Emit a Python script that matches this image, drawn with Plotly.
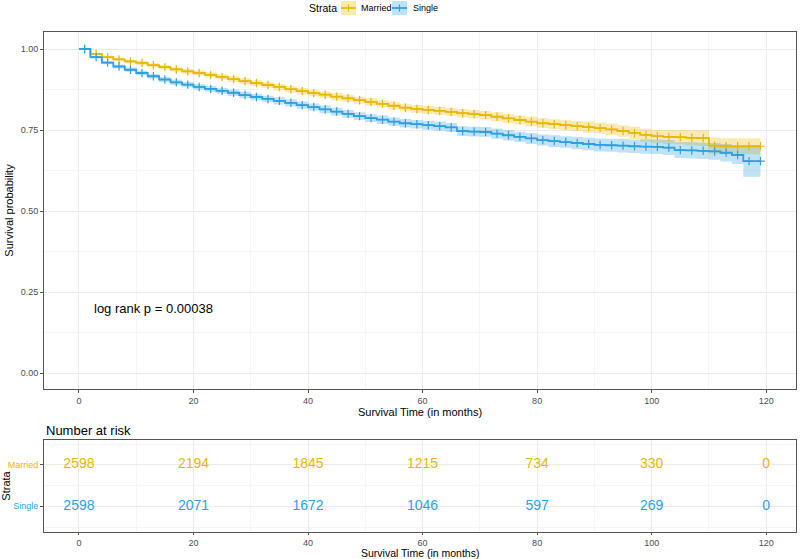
import plotly.graph_objects as go

# ---------------- data ----------------
times = [0, 2, 4, 6, 8, 10, 12, 14, 16, 18, 20, 22, 24, 26, 28, 30, 32, 34, 36, 38,
         40, 42, 44, 46, 48, 50, 52, 54, 56, 58, 60, 62, 64, 66, 68, 70, 72, 74, 76, 78,
         80, 82, 84, 86, 88, 90, 92, 94, 96, 98, 100, 102, 104, 106, 108, 110, 112, 114, 116, 118, 119]

married_surv = [1.000, 0.985, 0.975, 0.968, 0.962, 0.957, 0.950, 0.944, 0.937, 0.931,
                0.926, 0.920, 0.914, 0.907, 0.901, 0.895, 0.889, 0.883, 0.876, 0.870,
                0.864, 0.859, 0.853, 0.848, 0.842, 0.837, 0.831, 0.825, 0.819, 0.815,
                0.812, 0.809, 0.806, 0.802, 0.799, 0.796, 0.791, 0.786, 0.781, 0.776,
                0.771, 0.768, 0.765, 0.762, 0.759, 0.756, 0.752, 0.747, 0.741, 0.735,
                0.731, 0.729, 0.728, 0.726, 0.725, 0.702, 0.700, 0.700, 0.700, 0.700, 0.700]

single_surv = [1.000, 0.975, 0.958, 0.946, 0.936, 0.926, 0.916, 0.906, 0.897, 0.890,
               0.883, 0.877, 0.871, 0.865, 0.858, 0.852, 0.846, 0.840, 0.834, 0.827,
               0.821, 0.814, 0.807, 0.800, 0.793, 0.787, 0.782, 0.776, 0.771, 0.768,
               0.765, 0.762, 0.758, 0.747, 0.745, 0.744, 0.739, 0.734, 0.729, 0.724,
               0.719, 0.716, 0.713, 0.710, 0.707, 0.704, 0.703, 0.702, 0.700, 0.699,
               0.698, 0.696, 0.688, 0.687, 0.686, 0.684, 0.680, 0.673, 0.654, 0.654, 0.654]

married_ci_half = [0.000, 0.003, 0.004, 0.005, 0.005, 0.006, 0.006, 0.007, 0.007, 0.007,
                   0.008, 0.008, 0.008, 0.009, 0.009, 0.009, 0.009, 0.010, 0.010, 0.010,
                   0.010, 0.010, 0.011, 0.011, 0.011, 0.011, 0.011, 0.012, 0.012, 0.012,
                   0.012, 0.012, 0.013, 0.013, 0.013, 0.013, 0.014, 0.014, 0.014, 0.015,
                   0.015, 0.015, 0.016, 0.016, 0.017, 0.017, 0.018, 0.018, 0.019, 0.020,
                   0.020, 0.021, 0.022, 0.023, 0.024, 0.025, 0.025, 0.025, 0.025, 0.025, 0.025]

single_ci_half = [0.000, 0.004, 0.005, 0.006, 0.006, 0.007, 0.007, 0.008, 0.008, 0.008,
                  0.009, 0.009, 0.009, 0.010, 0.010, 0.010, 0.010, 0.011, 0.011, 0.011,
                  0.011, 0.012, 0.012, 0.012, 0.012, 0.012, 0.013, 0.013, 0.013, 0.013,
                  0.014, 0.014, 0.014, 0.015, 0.015, 0.015, 0.016, 0.016, 0.016, 0.017,
                  0.017, 0.018, 0.018, 0.019, 0.019, 0.020, 0.020, 0.021, 0.021, 0.022,
                  0.022, 0.023, 0.024, 0.025, 0.025, 0.026, 0.027, 0.028, 0.048, 0.048, 0.048]

risk_times = [0, 20, 40, 60, 80, 100, 120]
married_risk = [2598, 2194, 1845, 1215, 734, 330, 0]
single_risk = [2598, 2071, 1672, 1046, 597, 269, 0]

strata = ["Married", "Single"]
colors = {"Married": "#E7B800", "Single": "#2E9FDF"}
fills = {"Married": "rgba(231,184,0,0.3)", "Single": "rgba(46,159,223,0.3)"}

x_ticks = [0, 20, 40, 60, 80, 100, 120]
y_ticks = [0.00, 0.25, 0.50, 0.75, 1.00]
y_ticklabels = ["0.00", "0.25", "0.50", "0.75", "1.00"]

FONT = "Liberation Sans, Arial, sans-serif"
W, H = 800, 559

fig = go.Figure()

series = {"Married": (married_surv, married_ci_half), "Single": (single_surv, single_ci_half)}
for name in strata:
    surv, half = series[name]
    lower = [s - h for s, h in zip(surv, half)]
    upper = [min(1.0, s + h) for s, h in zip(surv, half)]
    fig.add_trace(go.Scatter(x=times, y=lower, mode="lines", line=dict(width=0, shape="hv"),
                             showlegend=False, hoverinfo="skip", xaxis="x", yaxis="y"))
    fig.add_trace(go.Scatter(x=times, y=upper, mode="lines", line=dict(width=0, shape="hv"),
                             fill="tonexty", fillcolor=fills[name],
                             showlegend=False, hoverinfo="skip", xaxis="x", yaxis="y"))

for name in strata:
    surv, half = series[name]
    fig.add_trace(go.Scatter(x=times, y=surv, mode="lines", name=name,
                             line=dict(color=colors[name], width=1.8, shape="hv"),
                             showlegend=False, xaxis="x", yaxis="y"))
    cx = [t + 1 for t in times[:-1]]
    cy = surv[:-1]
    fig.add_trace(go.Scatter(x=cx, y=cy, mode="markers", name=name,
                             marker=dict(symbol="cross-thin", size=6,
                                         line=dict(color=colors[name], width=1.2)),
                             showlegend=False, xaxis="x", yaxis="y"))

# number at risk table
for yv, name, vals in [(2, "Married", married_risk), (1, "Single", single_risk)]:
    fig.add_trace(go.Scatter(x=risk_times, y=[yv] * len(risk_times), mode="text",
                             text=[str(v) for v in vals],
                             textfont=dict(color=colors[name], size=14, family=FONT),
                             showlegend=False, hoverinfo="skip", xaxis="x2", yaxis="y2"))

XR = [-6.1, 125.2]
axis_common = dict(
    showline=True, linecolor="#555555", linewidth=1, mirror=True,
    ticks="outside", tickcolor="#555555",
    tickfont=dict(size=9, color="#4d4d4d", family=FONT),
    showgrid=True, gridcolor="#EBEBEB", gridwidth=1, zeroline=False,
    automargin=False,
)


def px(x):
    return x / W


def py(y):
    return 1 - y / H


# manual legend (ggplot style: band box + line + cross)
shapes = []
annotations = [
    dict(x=px(307), y=py(8), xref="paper", yref="paper", text="Strata", showarrow=False,
         xanchor="left", yanchor="middle", font=dict(size=10.5, family=FONT, color="black")),
]
legend_pos = {"Married": (341, 359), "Single": (392, 411)}
for name in strata:
    gx, tx = legend_pos[name]
    shapes.append(dict(type="rect", xref="paper", yref="paper",
                       x0=px(gx), x1=px(gx + 15), y0=py(15), y1=py(1),
                       fillcolor=fills[name], line=dict(width=0), layer="above"))
    shapes.append(dict(type="line", xref="paper", yref="paper",
                       x0=px(gx), x1=px(gx + 15), y0=py(8), y1=py(8),
                       line=dict(color=colors[name], width=1.8), layer="above"))
    shapes.append(dict(type="line", xref="paper", yref="paper",
                       x0=px(gx + 7.5), x1=px(gx + 7.5), y0=py(4.5), y1=py(11.5),
                       line=dict(color=colors[name], width=1.2), layer="above"))
    annotations.append(dict(x=px(tx), y=py(8), xref="paper", yref="paper", text=name,
                            showarrow=False, xanchor="left", yanchor="middle",
                            font=dict(size=9, family=FONT, color="black")))

annotations += [
    dict(x=13, y=0.2, xref="x", yref="y", text="log rank p = 0.00038", showarrow=False,
         font=dict(size=13, family=FONT, color="black")),
    dict(x=px(44), y=py(430), xref="paper", yref="paper", text="Number at risk",
         showarrow=False, xanchor="left", yanchor="middle",
         font=dict(size=13, family=FONT, color="black")),
    dict(x=px(420), y=0, xref="paper", yref="paper", text="Survival Time (in months)",
         showarrow=False, xanchor="center", yanchor="bottom", yshift=-2,
         font=dict(size=10.5, family=FONT, color="black")),
]

fig.update_layout(
    width=W, height=H,
    margin=dict(l=0, r=0, t=0, b=0),
    paper_bgcolor="white", plot_bgcolor="white",
    font=dict(family=FONT, color="black"),
    showlegend=False,
    xaxis=dict(domain=[px(44), px(796)], range=XR, tickvals=x_ticks, anchor="y", ticklen=3,
               minor=dict(dtick=10, tick0=0, showgrid=True, gridcolor="#F5F5F5", ticks=""),
               title=dict(text="Survival Time (in months)", font=dict(size=11), standoff=3),
               **axis_common),
    yaxis=dict(domain=[py(389), py(32)], range=[-0.049, 1.0525], anchor="x", ticklen=3,
               tickvals=y_ticks, ticktext=y_ticklabels,
               minor=dict(dtick=0.125, tick0=0, showgrid=True, gridcolor="#F5F5F5", ticks=""),
               title=dict(text="Survival probability", font=dict(size=11), standoff=4),
               **axis_common),
    xaxis2=dict(domain=[px(44), px(796)], range=XR, tickvals=x_ticks, anchor="y2", ticklen=2,
                minor=dict(dtick=10, tick0=0, showgrid=True, gridcolor="#F5F5F5", ticks=""),
                **axis_common),
    yaxis2=dict(domain=[py(532), py(440)], range=[0.38, 2.6], anchor="x2", ticklen=3,
                tickvals=[2, 1],
                ticktext=["<span style='color:#E7B800'>Married</span>",
                          "<span style='color:#2E9FDF'>Single</span>"],
                minor=dict(dtick=0.5, tick0=0.5, showgrid=True, gridcolor="#F5F5F5", ticks=""),
                title=dict(text="Strata", font=dict(size=11), standoff=4),
                **axis_common),
    shapes=shapes,
    annotations=annotations,
)

fig.write_html("out.html", config={"displayModeBar": False},
               post_script="document.body.style.margin='0';document.body.style.overflow='hidden';")
